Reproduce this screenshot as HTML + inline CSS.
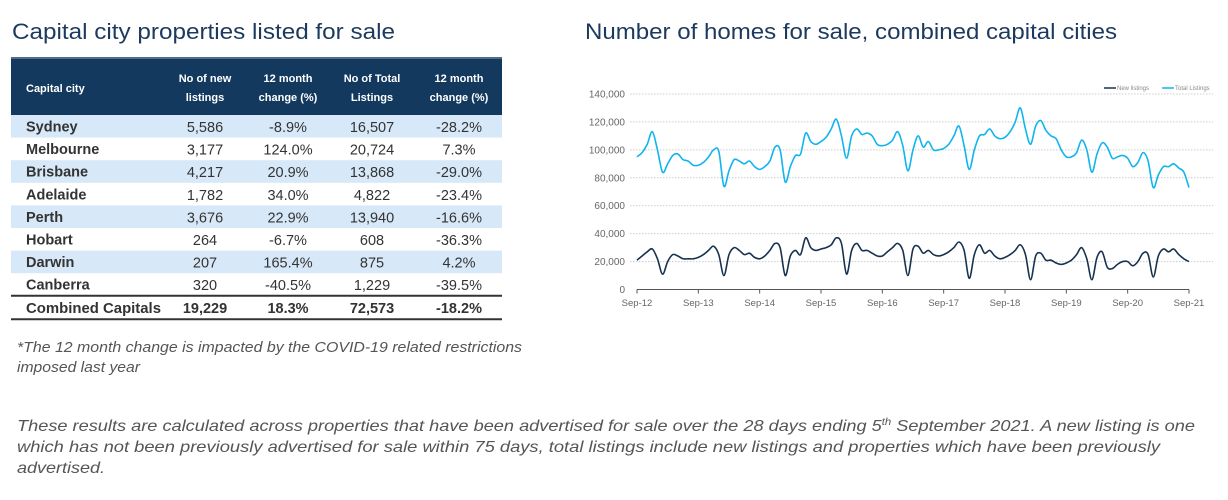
<!DOCTYPE html>
<html><head><meta charset="utf-8"><style>
html,body{margin:0;padding:0;background:#fff;}
svg{display:block;font-family:"Liberation Sans",sans-serif;}
</style></head><body>
<svg width="1228" height="500" viewBox="0 0 1228 500">
<text x="12" y="39" font-size="22" fill="#1c3a5e" textLength="383" lengthAdjust="spacingAndGlyphs">Capital city properties listed for sale</text>
<line x1="11" y1="58" x2="502" y2="58" stroke="#1c3a5e" stroke-width="1.5"/>
<text x="585" y="39" font-size="22" fill="#1c3a5e" textLength="532" lengthAdjust="spacingAndGlyphs">Number of homes for sale, combined capital cities</text>

<g id="table">
<rect x="11" y="59" width="491" height="56" fill="#133a5e"/>
<g font-size="11" font-weight="bold" fill="#fff">
<text x="26" y="92">Capital city</text>
<text x="205" y="82" text-anchor="middle">No of new</text>
<text x="205" y="101" text-anchor="middle">listings</text>
<text x="288" y="82" text-anchor="middle">12 month</text>
<text x="288" y="101" text-anchor="middle">change (%)</text>
<text x="372" y="82" text-anchor="middle">No of Total</text>
<text x="372" y="101" text-anchor="middle">Listings</text>
<text x="459" y="82" text-anchor="middle">12 month</text>
<text x="459" y="101" text-anchor="middle">change (%)</text>
</g>
</g>

<g id="chart"></g>

<text x="17" y="352" font-size="14.5" font-style="italic" fill="#555" textLength="505" lengthAdjust="spacingAndGlyphs">*The 12 month change is impacted by the COVID-19 related restrictions</text>
<text x="17" y="372" font-size="14.5" font-style="italic" fill="#555" textLength="123" lengthAdjust="spacingAndGlyphs">imposed last year</text>
<g font-size="16" font-style="italic" fill="#555">
<text x="17" y="431" textLength="1178" lengthAdjust="spacingAndGlyphs">These results are calculated across properties that have been advertised for sale over the 28 days ending 5<tspan font-size="10" dy="-6">th</tspan><tspan dy="6"> September 2021.  A new listing is one</tspan></text>
<text x="17" y="452" textLength="1143" lengthAdjust="spacingAndGlyphs">which has not been previously advertised for sale within 75 days, total listings include new listings and properties which have been previously</text>
<text x="17" y="473" textLength="88" lengthAdjust="spacingAndGlyphs">advertised.</text>
</g>
</svg>
<script>
const NS="http://www.w3.org/2000/svg";
const cities=["Sydney","Melbourne","Brisbane","Adelaide","Perth","Hobart","Darwin","Canberra"];
const newListings=["5,586","3,177","4,217","1,782","3,676","264","207","320"];
const newChange=["-8.9%","124.0%","20.9%","34.0%","22.9%","-6.7%","165.4%","-40.5%"];
const totalListings=["16,507","20,724","13,868","4,822","13,940","608","875","1,229"];
const totalChange=["-28.2%","7.3%","-29.0%","-23.4%","-16.6%","-36.3%","4.2%","-39.5%"];
const combined=["Combined Capitals","19,229","18.3%","72,573","-18.2%"];

const xLabels=["Sep-12","Sep-13","Sep-14","Sep-15","Sep-16","Sep-17","Sep-18","Sep-19","Sep-20","Sep-21"];
const yTicks=[0,20000,40000,60000,80000,100000,120000,140000];
const totalSeries=[95,98,104,113,100,84,90,96,97,93,92,89,
89,91,95,100,99,74,85,93,92,90,92,88,
86,88,92,102,100,77,88,96,97,112,106,104,
106,109,115,122,110,94,110,115,111,112,110,104,
103,104,107,113,103,85,100,110,102,106,100,100,
101,104,110,117,103,86,100,110,111,115,110,108,
109,113,120,130,115,104,117,121,114,110,108,100,
95,95,98,107,100,84,97,105,102,94,95,96,
94,88,91,98,92,73,82,88,88,90,87,84,73];
const newSeries=[21,24,27,29,22,11,20,25,24,22,22,22,
23,25,28,31,25,10,25,30,28,25,26,23,
22,24,28,33,30,10,24,28,25,37,30,28,
29,30,32,37,33,11,28,33,28,28,26,24,
24,27,30,33,28,10,29,31,26,28,25,24,
25,27,30,34,28,8,25,32,26,28,24,22,
23,25,28,32,25,7,24,26,21,21,19,18,
19,21,25,30,22,7,23,27,16,15,18,20,
20,17,20,26,25,9,24,29,27,29,25,22,20];

function el(tag,attrs,parent,text){const e=document.createElementNS(NS,tag);for(const k in attrs)e.setAttribute(k,attrs[k]);if(text!==undefined)e.textContent=text;parent.appendChild(e);return e;}

// table
const tbl=document.getElementById("table");
const rowTop=115,rowH=22.6,cols=[205,288,372,459];
cities.forEach((c,i)=>{
  const y=rowTop+i*rowH;
  if(i%2===0){const r=el("rect",{x:11,y:y,width:491,height:rowH,fill:"#d7e8f8"},tbl);
    
    }
  const t=el("text",{x:26,y:y+16.5,"font-size":14.5,"font-weight":"bold",fill:"#333"},tbl,c);
  
  
  [newListings[i],newChange[i],totalListings[i],totalChange[i]].forEach((v,j)=>{
    const tv=el("text",{x:cols[j],y:y+17,"font-size":14.5,fill:"#333","text-anchor":"middle"},tbl,v);
    
    
  });
});
const cy=rowTop+8*rowH;
const l1=el("line",{x1:11,y1:cy,x2:502,y2:cy,stroke:"#333",'stroke-width':2},tbl);


const l2=el("line",{x1:11,y1:cy+23.5,x2:502,y2:cy+23.5,stroke:"#333",'stroke-width':2},tbl);


const ct=el("text",{x:26,y:cy+17,"font-size":14.5,"font-weight":"bold",fill:"#333",textLength:135,lengthAdjust:"spacingAndGlyphs"},tbl,combined[0]);


combined.slice(1).forEach((v,j)=>{
  const t=el("text",{x:cols[j],y:cy+17,"font-size":14.5,"font-weight":"bold",fill:"#333","text-anchor":"middle"},tbl,v);
  
  
});

// chart
const ch=document.getElementById("chart");
const x0=637,x1=1189,y0=289.5,yTop=94,n=totalSeries.length;
const xs=i=>x0+(x1-x0)*i/(n-1);
const ys=v=>y0-(y0-yTop)*v/140000;
yTicks.forEach(v=>{
  if(v>0){const g=el("line",{x1:630,y1:ys(v),x2:1213,y2:ys(v),stroke:"#ccc","stroke-dasharray":"1.5,1.5"},ch);
    
    }
  const t=el("text",{x:625,y:ys(v)+3.5,"font-size":10,fill:"#666","text-anchor":"end"},ch,v.toLocaleString("en-US"));
  
  
});
const ax=el("line",{x1:x0,y1:y0,x2:x1,y2:y0,stroke:"#555","stroke-width":1},ch);


xLabels.forEach((s,i)=>{
  const x=x0+(x1-x0)*i/(xLabels.length-1);
  const tk=el("line",{x1:x,y1:y0,x2:x,y2:y0+4,stroke:"#555"},ch);
  
  
  const t=el("text",{x:x,y:306,"font-size":9.5,fill:"#666","text-anchor":"middle"},ch,s);
  
  
});
function path(vals){
  const p=vals.map((v,i)=>[xs(i),ys(v*1000)]);
  let d="M"+p[0][0]+","+p[0][1];
  for(let i=0;i<p.length-1;i++){
    const a=p[Math.max(0,i-1)],b=p[i],c=p[i+1],e=p[Math.min(p.length-1,i+2)];
    const c1=[b[0]+(c[0]-a[0])/6,b[1]+(c[1]-a[1])/6],c2=[c[0]-(e[0]-b[0])/6,c[1]-(e[1]-b[1])/6];
    d+=" C"+c1+" "+c2+" "+c;
  }
  return d;
}
const pt=el("path",{d:path(totalSeries),fill:"none",stroke:"#10b4ee","stroke-width":1.6},ch);


const pn=el("path",{d:path(newSeries),fill:"none",stroke:"#17324f","stroke-width":1.6},ch);


// legend
const lg1=el("line",{x1:1104,y1:88,x2:1116,y2:88,stroke:"#17324f","stroke-width":1.5},ch);


el("text",{x:1117,y:90,"font-size":6,fill:"#888"},ch,"New listings");
const lg2=el("line",{x1:1162,y1:88,x2:1174,y2:88,stroke:"#10b4ee","stroke-width":1.5},ch);


el("text",{x:1175,y:90,"font-size":6,fill:"#888"},ch,"Total Listings");
</script>
</body></html>
